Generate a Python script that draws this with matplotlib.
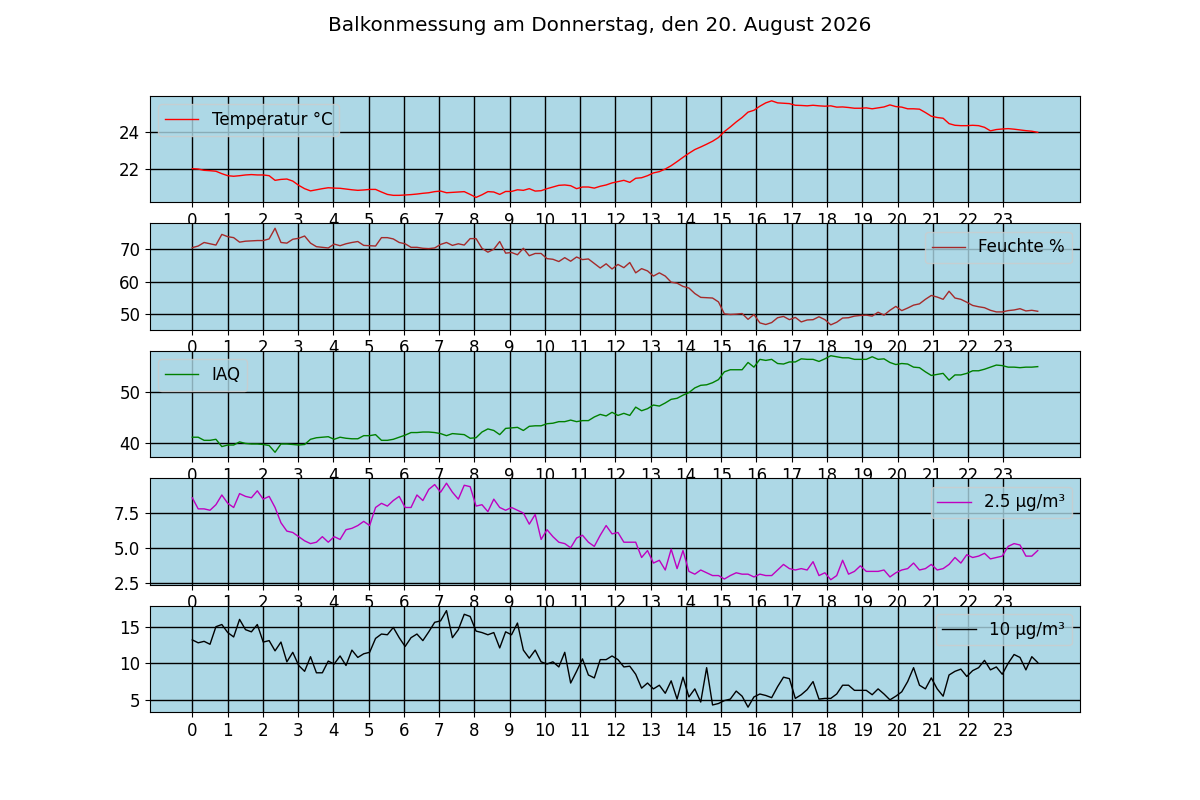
import numpy as np
import matplotlib
matplotlib.use('Agg')
import matplotlib.pyplot as plt

# Messwerte ca. alle 10 Minuten
sample_minutes = 10.06

temperatur = [
    22.0, 21.98, 21.91, 21.89, 21.86, 21.73,
    21.62, 21.59, 21.62, 21.66, 21.68, 21.66,
    21.66, 21.62, 21.37, 21.42, 21.44, 21.33,
    21.1, 20.92, 20.8, 20.86, 20.92, 20.97,
    20.95, 20.94, 20.9, 20.86, 20.83, 20.85,
    20.88, 20.88, 20.74, 20.61, 20.56, 20.56,
    20.58, 20.6, 20.63, 20.67, 20.7, 20.76,
    20.79, 20.7, 20.72, 20.74, 20.76, 20.61,
    20.45, 20.59, 20.76, 20.74, 20.61, 20.77,
    20.77, 20.86, 20.83, 20.92, 20.79, 20.81,
    20.92, 21.01, 21.1, 21.12, 21.08, 20.92,
    21.01, 21.01, 20.95, 21.05, 21.12, 21.23,
    21.3, 21.37, 21.26, 21.48, 21.51,
    21.62, 21.77, 21.84, 21.98, 22.16, 22.38,
    22.61, 22.83, 23.03, 23.17, 23.32, 23.48,
    23.68, 24.0, 24.25, 24.52, 24.76, 25.05,
    25.15, 25.37, 25.55, 25.66, 25.55, 25.53,
    25.51, 25.42, 25.41, 25.39, 25.42, 25.39,
    25.37, 25.39, 25.32, 25.33, 25.3, 25.26,
    25.26, 25.28, 25.23, 25.28, 25.33, 25.44,
    25.35, 25.32, 25.23, 25.23, 25.21, 25.03,
    24.83, 24.76, 24.72, 24.43, 24.34, 24.32,
    24.32, 24.34, 24.32, 24.23, 24.04, 24.11,
    24.14, 24.16, 24.13, 24.09, 24.05, 24.02,
    23.96,
]

feuchte = [
    70.5, 71.0, 72.1, 71.7, 71.3, 74.6, 73.9, 73.6, 72.2, 72.5,
    72.6, 72.7, 72.7, 73.2, 76.5, 72.1, 71.9, 73.1, 73.4, 74.1,
    71.9, 70.8, 70.6, 70.4, 71.6, 71.1, 71.7, 72.1, 72.4, 71.2,
    71.1, 71.0, 73.6, 73.6, 73.2, 72.1, 71.7, 70.6, 70.6, 70.3,
    70.2, 70.4, 71.5, 72.1, 71.2, 71.7, 71.3, 73.3, 73.3, 70.3,
    69.1, 70.0, 72.4, 68.8, 69.0, 68.3, 70.3, 68.0, 68.7, 68.7,
    67.1, 66.9, 66.2, 67.4, 66.3, 67.6, 66.8, 67.0, 65.6, 64.2,
    65.5, 63.9, 65.3, 64.3, 65.9, 62.7, 64.0, 63.3, 61.7, 62.7,
    61.7, 59.8, 59.5, 58.5, 58.0, 56.3, 55.1, 55.0, 54.9, 53.7,
    50.0, 49.8, 49.9, 50.1, 48.3, 49.8, 47.2, 46.7, 47.3, 48.8,
    49.2, 48.2, 48.9, 47.5, 48.1, 48.2, 49.1, 48.2, 46.6, 47.4,
    48.7, 48.8, 49.3, 49.5, 49.6, 49.3, 50.5, 49.6, 51.1, 52.3,
    51.0, 51.8, 52.7, 53.1, 54.5, 55.7, 55.2, 54.5, 57.0, 54.9,
    54.5, 53.6, 52.6, 52.2, 51.9, 51.1, 50.6, 50.6, 51.0, 51.2,
    51.6, 50.9, 51.1, 50.8,
]

iaq = [
    41.2, 41.2, 40.6, 40.6, 40.8, 39.4, 39.7, 39.7, 40.3, 40.0,
    39.9, 39.9, 39.8, 39.6, 38.3, 39.9, 39.9, 39.8, 39.7, 39.8,
    40.8, 41.1, 41.2, 41.3, 40.8, 41.2, 41.0, 40.9, 40.9, 41.5,
    41.5, 41.7, 40.6, 40.6, 40.8, 41.2, 41.6, 42.1, 42.1, 42.2,
    42.2, 42.1, 41.9, 41.5, 41.9, 41.8, 41.7, 41.0, 41.1, 42.2,
    42.8, 42.5, 41.7, 42.9, 43.0, 43.1, 42.5, 43.3, 43.4, 43.4,
    43.8, 43.9, 44.2, 44.2, 44.5, 44.2, 44.4, 44.4, 45.1, 45.6,
    45.3, 46.0, 45.4, 45.8, 45.4, 47.0, 46.3, 46.7, 47.4, 47.2,
    47.8, 48.5, 48.7, 49.3, 49.8, 50.7, 51.2, 51.3, 51.7, 52.3,
    53.8, 54.2, 54.2, 54.2, 55.6, 54.7, 56.2, 56.0, 56.2, 55.4,
    55.3, 55.7, 55.7, 56.3, 56.2, 56.2, 55.8, 56.3, 56.9, 56.7,
    56.5, 56.5, 56.2, 56.2, 56.2, 56.7, 56.2, 56.3, 55.6, 55.2,
    55.4, 55.3, 54.7, 54.6, 53.8, 53.1, 53.3, 53.5, 52.2, 53.2,
    53.2, 53.5, 54.0, 54.0, 54.3, 54.7, 55.1, 55.0, 54.7, 54.7,
    54.6, 54.7, 54.7, 54.8,
]

pm25 = [
    8.6, 7.8, 7.8, 7.7, 8.1, 8.8, 8.2, 7.9, 8.9, 8.7,
    8.6, 9.1, 8.5, 8.7, 7.9, 6.8, 6.2, 6.1, 5.8, 5.5,
    5.3, 5.4, 5.8, 5.4, 5.8, 5.6, 6.3, 6.4, 6.6, 6.9,
    6.6, 7.9, 8.2, 8.0, 8.4, 8.7, 7.9, 7.9, 8.8, 8.4,
    9.2, 9.55, 9.0, 9.65, 9.0, 8.5, 9.5, 9.4, 8.0, 8.1,
    7.6, 8.5, 7.9, 7.7, 7.9, 7.7, 7.5, 6.7, 7.4, 5.6,
    6.3, 5.8, 5.4, 5.3, 5.0, 5.7, 5.9, 5.4, 5.1, 5.9,
    6.6, 6.0, 6.1, 5.4, 5.4, 5.4, 4.3, 4.8, 3.9, 4.1,
    3.4, 4.9, 3.5, 4.8, 3.3, 3.1, 3.4, 3.2, 3.0, 3.0,
    2.75, 3.0, 3.2, 3.1, 3.1, 2.9, 3.1, 3.0, 3.0, 3.4,
    3.8, 3.5, 3.4, 3.5, 3.4, 4.0, 3.0, 3.2, 2.7, 3.0,
    4.1, 3.1, 3.3, 3.7, 3.3, 3.3, 3.3, 3.4, 2.9, 3.2,
    3.4, 3.5, 3.9, 3.4, 3.5, 3.8, 3.4, 3.5, 3.8, 4.3,
    3.9, 4.5, 4.3, 4.4, 4.6, 4.2, 4.3, 4.4, 5.1, 5.3,
    5.2, 4.4, 4.4, 4.8,
]

pm10 = [
    13.2, 12.8, 13.0, 12.6, 15.0, 15.3, 14.2, 13.6, 16.0, 14.6,
    14.3, 15.3, 12.9, 13.1, 11.7, 12.9, 10.2, 11.5, 9.7, 8.9,
    10.9, 8.7, 8.7, 10.3, 9.9, 11.0, 9.7, 11.8, 10.8, 11.3,
    11.5, 13.4, 14.0, 13.9, 14.9, 13.5, 12.3, 13.5, 14.0, 13.1,
    14.3, 15.6, 15.8, 17.2, 13.5, 14.6, 16.7, 16.4, 14.4, 14.2,
    13.9, 14.2, 12.1, 14.3, 13.9, 15.5, 11.8, 10.7, 11.8, 10.2,
    9.9, 10.2, 9.5, 11.5, 7.3, 8.9, 10.6, 8.4, 8.0, 10.5,
    10.5, 11.0, 10.5, 9.5, 9.6, 8.5, 6.6, 7.3, 6.5, 7.0,
    5.9, 7.6, 5.1, 8.1, 5.4, 6.5, 4.7, 9.4, 4.3, 4.5,
    4.9, 5.1, 6.2, 5.5, 4.0, 5.4, 5.8, 5.6, 5.3, 6.8,
    8.1, 7.9, 5.2, 5.7, 6.4, 7.5, 5.1, 5.2, 5.2, 5.8,
    7.0, 7.0, 6.3, 6.3, 6.3, 5.7, 6.5, 5.8, 5.0, 5.5,
    6.1, 7.5, 9.4, 7.0, 6.5, 8.0, 6.5, 5.5, 8.4, 8.9,
    9.2, 8.2, 9.0, 9.4, 10.4, 9.1, 9.5, 8.5, 10.0, 11.2,
    10.8, 9.1, 10.9, 10.1,
]

stunden = list(range(24))

plt.rcParams['font.size'] = 12
# legend.facecolor 'inherit' nimmt diese Farbe mit
plt.rcParams['axes.facecolor'] = 'lightblue'

x = np.arange(len(temperatur)) * sample_minutes / 60.0

serien = [
    (temperatur, 'red', 'Temperatur °C', 'upper left'),
    (feuchte, 'brown', 'Feuchte %', 'upper right'),
    (iaq, 'green', 'IAQ', 'upper left'),
    (pm25, 'm', '2.5 µg/m³', 'upper right'),
    (pm10, 'black', '10 µg/m³', 'upper right'),
]

fig, axs = plt.subplots(5, 1, figsize=(12, 8), dpi=100)
fig.suptitle('Balkonmessung am Donnerstag, den 20. August 2026')

for ax, (werte, farbe, name, pos) in zip(axs, serien):
    ax.plot(x, werte, color=farbe, linewidth=1, label=name)
    ax.set_xticks(stunden)
    ax.grid(True, color='black', linewidth=1)
    ax.legend(loc=pos)

fig.savefig('out.png')
